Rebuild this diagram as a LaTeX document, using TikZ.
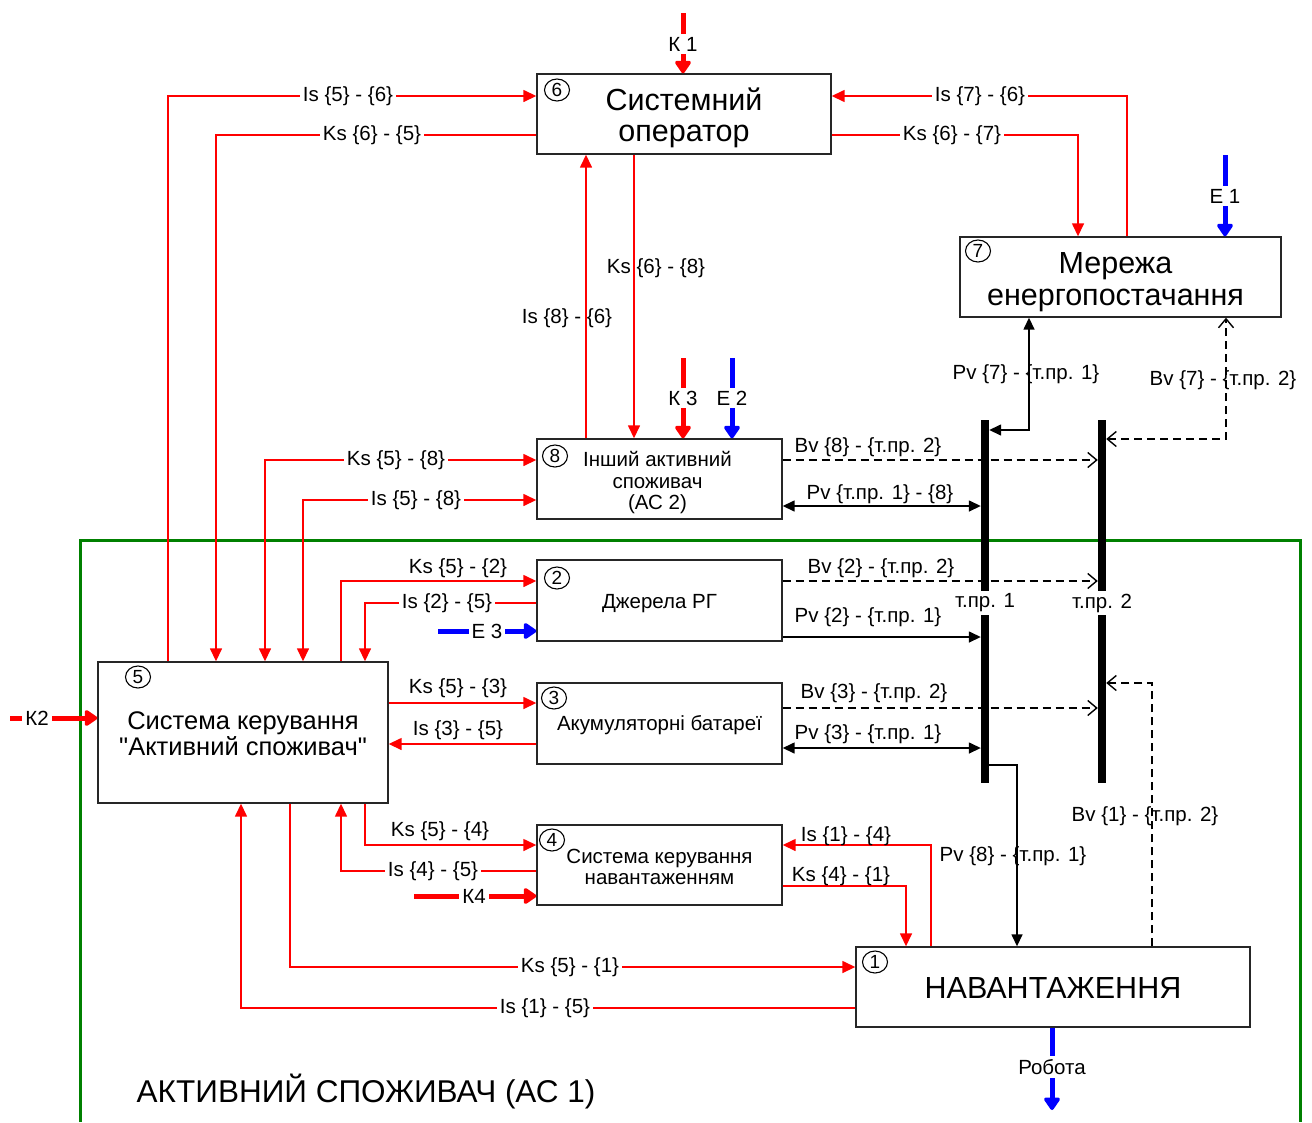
\documentclass[tikz,border=0pt]{standalone}
\usepackage{fontspec}
\setmainfont{Liberation Sans}
\usetikzlibrary{arrows.meta,shapes.geometric}
\definecolor{grn}{RGB}{0,128,0}
\newcommand\cbr[1]{\{#1\}}
\begin{document}
\begin{tikzpicture}[x=1pt,y=-1pt,
  box/.style={draw=black!85, line width=1.4pt, rectangle, inner sep=0pt, fill=white},
  bigt/.style={font=\fontsize{30.5}{31.5}\selectfont, align=center, inner sep=0pt},
  midt/.style={font=\fontsize{25.5}{25.5}\selectfont, align=center, inner sep=0pt},
  smt/.style={font=\fontsize{20.5}{21.5}\selectfont, align=center, inner sep=0pt},
  num/.style={draw, ellipse, line width=1.1pt, minimum width=25pt, minimum height=22pt, inner sep=0pt, font=\fontsize{19}{20}\selectfont},
  lbl/.style={font=\fontsize{20.5}{22}\selectfont, inner sep=1pt},
  cut/.style={lbl, fill=white, inner xsep=3pt, inner ysep=3pt},
  sig/.style={draw=red, line width=1.5pt, >={Triangle[length=13pt,width=12pt]}},
  ctl/.style={draw=red, line width=5pt, -{Triangle[length=14pt,width=18pt,round]}},
  enr/.style={ctl, draw=blue},
  pw/.style={draw=black, line width=1.5pt, >={Triangle[length=12pt,width=11pt]}},
  bvl/.style={draw=black, line width=1.4pt, dash pattern=on 8pt off 5pt, >={Straight Barb[length=9pt,width=15pt]}},
  bus/.style={fill=black, minimum width=8pt, minimum height=363pt, inner sep=0pt}
]
\useasboundingbox (0,0) rectangle (1312,1122);

% frame of AC 1
\draw[grn, line width=3pt] (80,1122) -- (80,540) -- (1300,540) -- (1300,1122);
\node[font=\fontsize{31.5}{32}\selectfont] (title) at (366,1092) {АКТИВНИЙ СПОЖИВАЧ (АС 1)};

% boxes
\node[box, minimum width=294pt, minimum height=80pt] (b6) at (684,114) {};
\node[box, minimum width=321pt, minimum height=80pt] (b7) at (1120.5,277) {};
\node[box, minimum width=245pt, minimum height=80pt] (b8) at (659.5,479) {};
\node[box, minimum width=245pt, minimum height=81pt] (b2) at (659.5,600.5) {};
\node[box, minimum width=245pt, minimum height=81pt] (b3) at (659.5,723.5) {};
\node[box, minimum width=245pt, minimum height=80pt] (b4) at (659.5,865) {};
\node[box, minimum width=290pt, minimum height=141pt] (b5) at (243,732.5) {};
\node[box, minimum width=394pt, minimum height=80pt] (b1) at (1053,987) {};

% box texts
\node[bigt] (t6) at ([yshift=-4pt]b6.center) {Системний\\оператор};
\node[bigt] (t7) at ([xshift=-5pt,yshift=-5pt]b7.center) {Мережа\\енергопостачання};
\node[smt] (t8) at ([xshift=-2pt,yshift=-4pt]b8.center) {Інший активний\\споживач\\(АС 2)};
\node[smt] (t2) at ([yshift=-3pt]b2.center) {Джерела РГ};
\node[smt] (t3) at ([yshift=-2pt]b3.center) {Акумуляторні батареї};
\node[smt] (t4) at ([yshift=-2pt]b4.center) {Система керування\\навантаженням};
\node[midt] (t5) at ([yshift=-1pt]b5.center) {Система керування\\\textquotedbl Активний споживач\textquotedbl};
\node[bigt] (t1) at ([yshift=-1pt]b1.center) {НАВАНТАЖЕННЯ};

% buses
\node[bus] (bus1) at (985,601.5) {};
\node[bus] (bus2) at (1102,601.5) {};

% external inputs / outputs
\coordinate (k1s) at (683,13);
\coordinate (e1s) at (1225,155);
\coordinate (k3s) at (683,358);
\coordinate (e2s) at (732,358);
\coordinate (k2s) at (10,718);
\coordinate (e3s) at (438,631);
\coordinate (k4s) at (414,896);
\coordinate (robe) at (1052,1110);
\draw[ctl] (k1s) -- (b6.north -| k1s);
\draw[enr] (e1s) -- (b7.north -| e1s);
\draw[ctl] (k3s) -- (b8.north -| k3s);
\draw[enr] (e2s) -- (b8.north -| e2s);
\draw[ctl] (k2s) -- (b5.west |- k2s);
\draw[enr] (e3s) -- (b2.west |- e3s);
\draw[ctl] (k4s) -- (b4.west |- k4s);
\draw[enr] (b1.south -| robe) -- (robe);

% red information / control links
\draw[sig,->] (b5.north -| 168,0) |- (b6.west |- 0,96);
\draw[sig,->] (b6.west |- 0,135) -| (b5.north -| 216,0);
\draw[sig,->] (b7.north -| 1127,0) |- (b6.east |- 0,96);
\draw[sig,->] (b6.east |- 0,135) -| (b7.north -| 1078,0);
\draw[sig,->] (b8.north -| 586,0) -- (b6.south -| 586,0);
\draw[sig,->] (b6.south -| 634,0) -- (b8.north -| 634,0);
\draw[sig,<->] (b5.north -| 265,0) |- (b8.west |- 0,460);
\draw[sig,<->] (b5.north -| 303,0) |- (b8.west |- 0,500);
\draw[sig,->] (b5.north -| 341,0) |- (b2.west |- 0,581);
\draw[sig,->] (b2.west |- 0,603) -| (b5.north -| 365,0);
\draw[sig,->] (b5.east |- 0,703) -- (b3.west |- 0,703);
\draw[sig,->] (b3.west |- 0,744) -- (b5.east |- 0,744);
\draw[sig,->] (b5.south -| 365,0) |- (b4.west |- 0,845);
\draw[sig,->] (b4.west |- 0,871) -| (b5.south -| 341,0);
\draw[sig,->] (b1.north -| 931,0) |- (b4.east |- 0,845);
\draw[sig,->] (b4.east |- 0,886) -| (b1.north -| 906,0);
\draw[sig,->] (b5.south -| 290,0) |- (b1.west |- 0,967);
\draw[sig,->] (b1.west |- 0,1008) -| (b5.south -| 241,0);

% power links (solid) and balance links (dashed)
\draw[pw,<->] (b8.east |- 0,506) -- (bus1.west |- 0,506);
\draw[pw,->] (b2.east |- 0,637) -- (bus1.west |- 0,637);
\draw[pw,<->] (b3.east |- 0,748) -- (bus1.west |- 0,748);
\draw[pw,<->] (bus1.east |- 0,430) -| (b7.south -| 1029,0);
\draw[pw,->] (bus1.east |- 0,765) -| (b1.north -| 1017,0);
\draw[bvl,->] (b8.east |- 0,460) -- (bus2.west |- 0,460);
\draw[bvl,->] (b2.east |- 0,581) -- (bus2.west |- 0,581);
\draw[bvl,->] (b3.east |- 0,708) -- (bus2.west |- 0,708);
\draw[bvl,<->] (bus2.east |- 0,439) -| (b7.south -| 1226,0);
\draw[bvl,->] (b1.north -| 1152,0) |- (bus2.east |- 0,683);

% labels
\node[cut] (lk1) at (683,44) {К 1};
\node[cut] (le1) at (1225,196) {Е 1};
\node[cut] (lk3) at (683,398) {К 3};
\node[cut] (le2) at (732,398) {Е 2};
\node[cut] (lk2) at (37,718) {К2};
\node[cut] (le3) at (487,631) {Е 3};
\node[cut] (lk4) at (474,896) {К4};
\node[cut] (lrob) at (1052,1067) {Робота};

\node[cut] (l56) at (348,96) {Is \cbr{5} - \cbr{6}};
\node[cut] (l65) at (372,135) {Ks \cbr{6} - \cbr{5}};
\node[cut] (l76) at (980,96) {Is \cbr{7} - \cbr{6}};
\node[cut] (l67) at (952,135) {Ks \cbr{6} - \cbr{7}};
\node[lbl] (l68) at (656,268) {Ks \cbr{6} - \cbr{8}};
\node[lbl] (l86) at (567,318) {Is \cbr{8} - \cbr{6}};
\node[cut] (l58) at (396,460) {Ks \cbr{5} - \cbr{8}};
\node[cut] (l58i) at (416,500) {Is \cbr{5} - \cbr{8}};
\node[lbl] (lbv8) at (868,447) {Bv \cbr{8} - \cbr{т.пр. 2}};
\node[lbl] (lpv8) at (880,494) {Pv \cbr{т.пр. 1} - \cbr{8}};
\node[lbl] (lpv7) at (1026,374) {Pv \cbr{7} - \cbr{т.пр. 1}};
\node[lbl] (lbv7) at (1223,380) {Bv \cbr{7} - \cbr{т.пр. 2}};
\node[lbl] (l52) at (458,568) {Ks \cbr{5} - \cbr{2}};
\node[cut] (l25) at (447,603) {Is \cbr{2} - \cbr{5}};
\node[lbl] (lbv2) at (881,568) {Bv \cbr{2} - \cbr{т.пр. 2}};
\node[lbl] (lpv2) at (868,617) {Pv \cbr{2} - \cbr{т.пр. 1}};
\node[cut] (lt1) at (985,603) {т.пр. 1};
\node[cut] (lt2) at (1102,603) {т.пр. 2};
\node[lbl] (l53) at (458,688) {Ks \cbr{5} - \cbr{3}};
\node[lbl] (l35) at (458,730) {Is \cbr{3} - \cbr{5}};
\node[lbl] (lbv3) at (874,693) {Bv \cbr{3} - \cbr{т.пр. 2}};
\node[lbl] (lpv3) at (868,734) {Pv \cbr{3} - \cbr{т.пр. 1}};
\node[lbl] (l54) at (440,831) {Ks \cbr{5} - \cbr{4}};
\node[cut] (l45) at (433,871) {Is \cbr{4} - \cbr{5}};
\node[lbl] (l14) at (846,836) {Is \cbr{1} - \cbr{4}};
\node[lbl] (l41) at (841,876) {Ks \cbr{4} - \cbr{1}};
\node[lbl] (lpv81) at (1013,856) {Pv \cbr{8} - \cbr{т.пр. 1}};
\node[lbl] (lbv1) at (1145,816) {Bv \cbr{1} - \cbr{т.пр. 2}};
\node[cut] (l51) at (570,967) {Ks \cbr{5} - \cbr{1}};
\node[cut] (l15) at (545,1008) {Is \cbr{1} - \cbr{5}};

% number marks
\node[num] (c6) at (557,90) {6};
\node[num] (c7) at (978,251) {7};
\node[num] (c8) at (555,456) {8};
\node[num] (c5) at (138,677) {5};
\node[num] (c2) at (557,578) {2};
\node[num] (c3) at (554,698) {3};
\node[num] (c4) at (552,840) {4};
\node[num] (c1) at (875,962) {1};
\end{tikzpicture}
\end{document}
